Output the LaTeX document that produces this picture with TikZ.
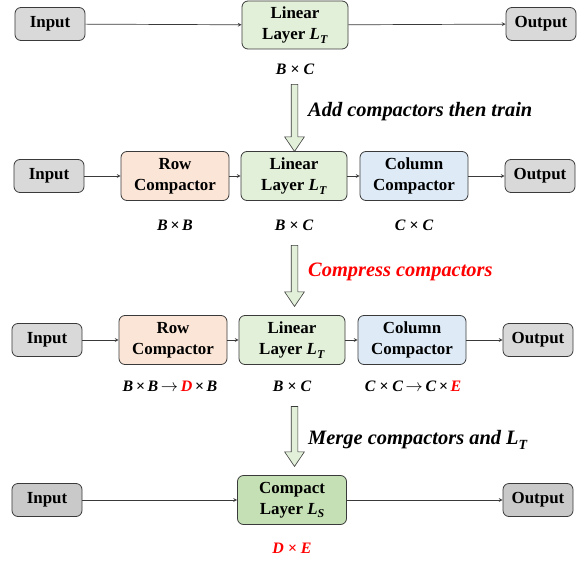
\documentclass[tikz,border=0pt]{standalone}
\usepackage{fontspec}
\setmainfont{Liberation Serif}
\usetikzlibrary{shapes.arrows}

\definecolor{iogray}{HTML}{D9D9D9}
\definecolor{iograyd}{HTML}{C9C9C9}
\definecolor{lingreen}{HTML}{E2F0D9}
\definecolor{cmpgreen}{HTML}{C5E0B4}
\definecolor{roworange}{HTML}{FBE5D6}
\definecolor{colblue}{HTML}{DEEBF7}
\definecolor{edgegray}{HTML}{3A3A3A}
\definecolor{hot}{HTML}{FF0000}

\newcommand{\lsub}[2]{\textit{#1}\raisebox{-0.45ex}{\fontsize{12}{12}\selectfont\textit{#2}}}
\newcommand{\tto}{\,$\rightarrow$\,}

\begin{document}
\begin{tikzpicture}[x=1bp, y=-1bp]
		\tikzstyle{box} = [rectangle, draw=edgegray, line width=0.8bp, rounded corners=6bp, inner sep=0pt, align=center, font=\fontsize{17}{21.5}\selectfont\bfseries]
		\tikzstyle{io} = [box, minimum width=70bp, minimum height=33bp, fill=iogray]
		\tikzstyle{layer} = [box, minimum width=106bp, minimum height=49bp]
		\tikzstyle{dim} = [inner sep=0pt, font=\fontsize{16}{18}\selectfont\bfseries\itshape]
		\tikzstyle{step text} = [inner sep=0pt, anchor=west, font=\fontsize{20.5}{24}\selectfont\bfseries\itshape]
		\tikzstyle{conn} = [-stealth, draw=edgegray, line width=0.7bp]
		\tikzstyle{hollow} = [single arrow, draw=edgegray, line width=0.6bp, fill=lingreen, rotate=-90, inner sep=3bp, minimum width=19bp, single arrow head extend=6.5bp, single arrow tip angle=68]
		
		\useasboundingbox (0,0) rectangle (584,563);
		
		% original layer
		\node [io] (In1) at (50,24) {Input};
		\node [layer, fill=lingreen, minimum height=48bp] (L1) at (295,25) {Linear \\ Layer \lsub{L}{T}};
		\node [io] (Out1) at (541,24) {Output};
		\node [dim] (d1) at (295,69) {B × C};
		\draw [conn] (In1) -- (L1);
		\draw [conn] (L1) -- (Out1);
		
		\node [hollow, minimum height=67bp] (A1) at (294.5,115.5) {};
		\node [step text] (s1) at (308,112) {Add compactors then train};
		
		% with compactors
		\node [io] (In2) at (49,176) {Input};
		\node [layer, fill=roworange, minimum width=108bp] (R2) at (175,176) {Row \\ Compactor};
		\node [layer, fill=lingreen] (L2) at (294,176) {Linear \\ Layer \lsub{L}{T}};
		\node [layer, fill=colblue, minimum width=108bp] (C2) at (414,176) {Column \\ Compactor};
		\node [io] (Out2) at (540,176) {Output};
		\node [dim] (d2a) at (175,225) {B\,×\,B};
		\node [dim] (d2b) at (294,225) {B × C};
		\node [dim] (d2c) at (414,225) {C × C};
		\draw [conn] (In2) -- (R2);
		\draw [conn] (R2) -- (L2);
		\draw [conn] (L2) -- (C2);
		\draw [conn] (C2) -- (Out2);
		
		\node [hollow, minimum height=61bp] (A2) at (294.5,273.5) {};
		\node [step text, text=hot] (s2) at (308,272) {Compress compactors};
		
		% compressed compactors
		\node [io] (In3) at (47,340) {Input};
		\node [layer, fill=roworange, minimum width=108bp] (R3) at (173,340) {Row \\ Compactor};
		\node [layer, fill=lingreen] (L3) at (292,340) {Linear \\ Layer \lsub{L}{T}};
		\node [layer, fill=colblue, minimum width=108bp] (C3) at (412,340) {Column \\ Compactor};
		\node [io] (Out3) at (538,340) {Output};
		\node [dim] (d3a) at (170,386) {B\,×\,B\tto\textcolor{hot}{D}\,×\,B};
		\node [dim] (d3b) at (292,386) {B × C};
		\node [dim] (d3c) at (413,386) {C × C\tto C\,×\,\textcolor{hot}{E}};
		\draw [conn] (In3) -- (R3);
		\draw [conn] (R3) -- (L3);
		\draw [conn] (L3) -- (C3);
		\draw [conn] (C3) -- (Out3);
		
		\node [hollow, minimum height=60bp] (A3) at (294.5,434) {};
		\node [step text] (s3) at (308,440) {Merge compactors and L\raisebox{-0.45ex}{\fontsize{14}{14}\selectfont T}};
		
		% merged layer
		\node [io, fill=iograyd] (In4) at (47,500) {Input};
		\node [layer, fill=cmpgreen, minimum width=109bp] (S4) at (292,500) {Compact \\ Layer \lsub{L}{S}};
		\node [io, fill=iograyd] (Out4) at (538,500) {Output};
		\node [dim, text=hot] (d4) at (292,548) {D × E};
		\draw [conn] (In4) -- (S4);
		\draw [conn] (S4) -- (Out4);
	\end{tikzpicture}
\end{document}
